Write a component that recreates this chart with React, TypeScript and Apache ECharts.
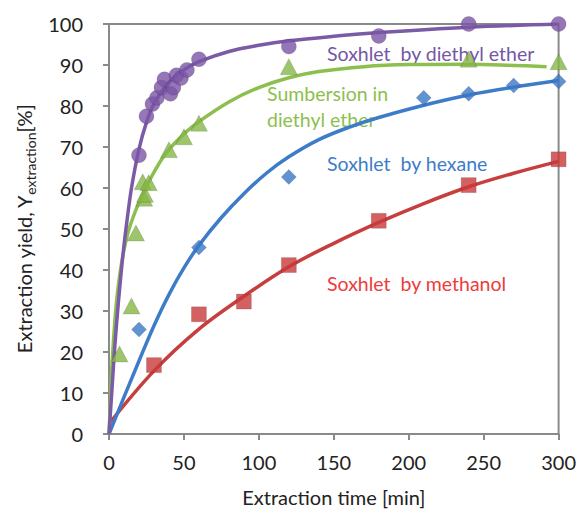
import React, { useEffect, useRef } from "react";
import * as echarts from "echarts";

// Measured points [time min, yield %]
const etherSoxhletPts: number[][] = [
  [20, 68], [25, 77.5], [29, 80.5], [32, 82], [35, 84.5], [37, 86.5], [41, 83],
  [43, 84.5], [45, 87.5], [48, 86.8], [52, 88.8], [60, 91.4], [120, 94.5],
  [180, 97.1], [240, 100], [300, 100],
];
const submersionPts: number[][] = [
  [7, 19.5], [15, 31.2], [18, 49], [23.5, 57.5], [24, 58.5], [22.5, 61.5], [26.5, 61.3],
  [40, 69.3], [50, 72.5], [60, 75.8], [120, 89.6], [240, 91.4], [300, 90.8],
];
const hexanePts: number[][] = [
  [20, 25.5], [60, 45.5], [120, 62.7], [210, 82], [240, 83], [270, 85], [300, 86],
];
const methanolPts: number[][] = [
  [30, 16.8], [60, 29.2], [90, 32.3], [120, 41.2], [180, 52], [240, 60.7], [300, 67],
];

// Fitted curves
const etherSoxhletFit: number[][] = [
  [0, 0], [2, 11], [4, 22], [6, 31], [8, 39], [10, 46], [12, 52], [15, 60], [20, 69.5],
  [25, 76], [30, 80.5], [40, 85.8], [50, 88.8], [60, 90.8], [80, 93.3], [100, 94.8],
  [120, 95.9], [150, 97], [180, 97.9], [240, 99.2], [300, 100],
];
const submersionFit: number[][] = [
  [0, 0], [1, 8], [2, 17], [4, 28], [6, 35.5], [9, 43], [13, 49.5], [20, 56.5],
  [28, 62.5], [38, 68.5], [50, 73.2], [60, 76.2], [80, 81], [100, 84.5], [120, 86.9],
  [140, 88.4], [170, 89.6], [200, 90.1], [240, 90.2], [270, 89.9], [292, 89.6],
];
const hexaneFit: number[][] = [
  [0, 0], [10, 9], [20, 17.8], [30, 26.4], [40, 34], [50, 40.5], [60, 46], [75, 52.8],
  [90, 58.6], [105, 63.6], [120, 67.6], [140, 71.8], [160, 74.8], [180, 77.2],
  [210, 80.2], [240, 82.7], [270, 84.6], [300, 86.2],
];
const methanolFit: number[][] = [
  [0, 2.5], [30, 15.4], [60, 25.6], [90, 33.6], [120, 40.8], [150, 46.5], [180, 51.6],
  [210, 56.2], [240, 60.3], [270, 63.6], [300, 66.5],
];

const xTicks = { min: 0, max: 300, interval: 50 };
const yTicks = { min: 0, max: 100, interval: 10 };

const FONT = "Lato, 'Noto Sans', sans-serif";
const AXIS = "#8a8a8a";
const PURPLE = "#7b5aa6";
const GREEN = "#8dbf4e";
const BLUE = "#3d7cc9";
const RED = "#c63f3e";

export default function App() {
  const ref = useRef<HTMLDivElement>(null);
  useEffect(() => {
    if (!ref.current) return;
    const chart = echarts.init(ref.current, undefined, { renderer: "svg" });
    const fitLine = (data: number[][], color: string) => ({
      type: "line",
      data,
      smooth: 0.35,
      showSymbol: false,
      symbol: "none",
      lineStyle: { color, width: 3.5 },
      z: 2,
    });
    const pts = (data: number[][], color: string, symbol: string, size: number | number[]) => ({
      type: "scatter",
      data,
      symbol,
      symbolSize: size,
      itemStyle: { color, borderColor: "rgba(0,0,0,0.15)", borderWidth: 1 },
      z: 3,
    });
    const label = (text: string, x: number, y: number, fill: string) => ({
      type: "text",
      x,
      y,
      style: { text, fill, font: `19.5px ${FONT}`, verticalAlign: "middle" },
    });
    chart.setOption({
      animation: false,
      textStyle: { fontFamily: FONT },
      grid: {
        left: 109, top: 24, right: 16, bottom: 79,
        show: true, borderColor: AXIS, borderWidth: 2,
      },
      xAxis: {
        type: "value",
        ...xTicks,
        name: "Extraction time [min]",
        nameLocation: "middle",
        nameGap: 53,
        nameTextStyle: { fontSize: 20, color: "#222", fontFamily: FONT },
        axisLine: { show: true, lineStyle: { color: AXIS, width: 2 } },
        axisTick: { show: true, inside: false, length: 6, lineStyle: { color: AXIS, width: 2 } },
        axisLabel: { fontSize: 20, color: "#222", margin: 18, fontFamily: FONT },
        splitLine: { show: false },
      },
      yAxis: {
        type: "value",
        ...yTicks,
        name: "{a|Extraction yield, Y}{b|extraction}{a|[%]}",
        nameLocation: "middle",
        nameGap: 70,
        nameRotate: 90,
        nameTextStyle: {
          color: "#222",
          fontFamily: FONT,
          rich: {
            a: { fontSize: 20, color: "#222", fontFamily: FONT, lineHeight: 26, verticalAlign: "middle" },
            b: { fontSize: 14, color: "#222", fontFamily: FONT, lineHeight: 26, verticalAlign: "bottom", padding: [8, 0, 0, 0] },
          },
        },
        axisLine: { show: true, lineStyle: { color: AXIS, width: 2 } },
        axisTick: { show: true, inside: false, length: 6, lineStyle: { color: AXIS, width: 2 } },
        axisLabel: { fontSize: 20, color: "#222", margin: 26, fontFamily: FONT },
        splitLine: { show: false },
      },
      series: [
        fitLine(methanolFit, RED),
        fitLine(hexaneFit, BLUE),
        fitLine(submersionFit, GREEN),
        fitLine(etherSoxhletFit, PURPLE),
        pts(methanolPts, "#c8393b", "rect", 15),
        pts(hexanePts, "#3b78c6", "diamond", 15),
        pts(submersionPts, "#86b646", "triangle", [17, 16]),
        pts(etherSoxhletPts, "#7a55a6", "circle", 15),
      ],
      graphic: [
        label("Soxhlet  by diethyl ether", 327, 53, "#7457a6"),
        label("Sumbersion in", 267, 93, "#8cc04e"),
        label("diethyl ether", 267, 119, "#8cc04e"),
        label("Soxhlet  by hexane", 327, 163, "#3d7cc9"),
        label("Soxhlet  by methanol", 327, 283, "#ee3b3b"),
      ],
    });
    return () => chart.dispose();
  }, []);
  return <div ref={ref} style={{ width: 579, height: 513, position: "absolute", left: 0, top: 0, background: "#fff" }} />;
}
